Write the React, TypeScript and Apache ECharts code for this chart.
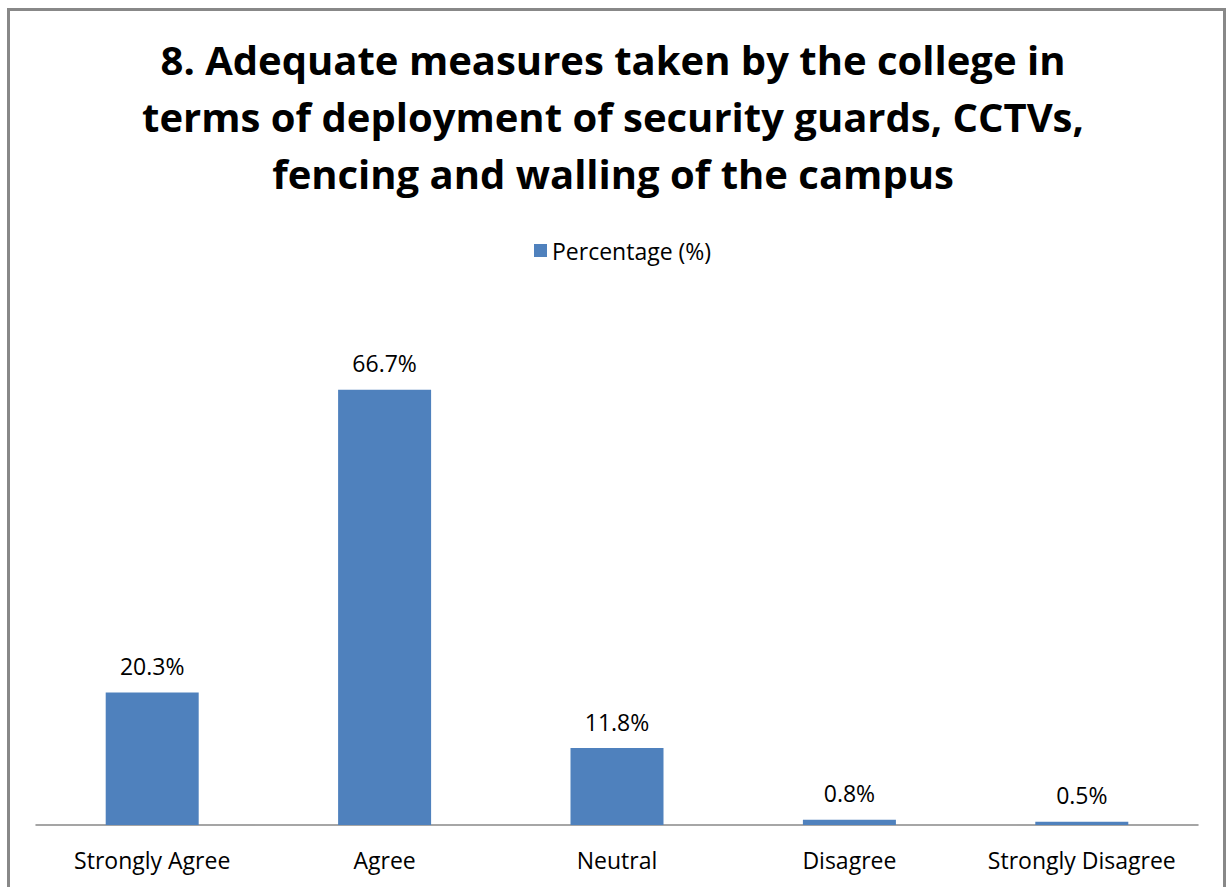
import React, { useEffect, useRef } from "react";
import * as echarts from "echarts";

const categories = ["Strongly Agree", "Agree", "Neutral", "Disagree", "Strongly Disagree"];
const percentages = [20.3, 66.7, 11.8, 0.8, 0.5];
const seriesName = "Percentage (%)";
const titleText =
  "8. Adequate measures taken by the college in\nterms of deployment of security guards, CCTVs,\nfencing and walling of the campus";

const FONT = "'Open Sans', 'Liberation Sans', sans-serif";

export default function App() {
  const ref = useRef<HTMLDivElement>(null);
  useEffect(() => {
    if (!ref.current) return;
    const chart = echarts.init(ref.current, undefined, { renderer: "svg" });
    chart.setOption({
      animation: false,
      backgroundColor: "#ffffff",
      title: {
        text: titleText,
        left: "center",
        top: 26,
        textStyle: {
          fontFamily: FONT,
          fontSize: 40,
          fontWeight: "bold",
          lineHeight: 57,
          color: "#000000",
        },
      },
      legend: {
        data: [seriesName],
        top: 234,
        left: 529,
        icon: "rect",
        itemWidth: 13,
        itemHeight: 13,
        itemGap: 8,
        textStyle: { fontFamily: FONT, fontSize: 23, color: "#000000" },
      },
      graphic: [
        {
          type: "rect",
          shape: { x: 8.5, y: 9.5, width: 1216, height: 900 },
          style: { fill: "none", stroke: "#888888", lineWidth: 3 },
          z: 100,
        },
      ],
      grid: { left: 36, right: 28, top: 303, bottom: 62, containLabel: false },
      xAxis: {
        type: "category",
        data: categories,
        axisLine: { show: true, lineStyle: { color: "#888888", width: 1.5 } },
        axisTick: { show: false },
        axisLabel: {
          fontFamily: FONT,
          fontSize: 23,
          color: "#000000",
          margin: 23,
          interval: 0,
        },
      },
      yAxis: {
        type: "value",
        min: 0,
        max: 80,
        interval: 10,
        show: false,
        splitLine: { show: false },
      },
      series: [
        {
          name: seriesName,
          type: "bar",
          data: percentages,
          barWidth: 93,
          itemStyle: { color: "#4F81BD" },
          label: {
            show: true,
            position: "top",
            distance: 15,
            formatter: (p: any) => p.value.toFixed(1) + "%",
            fontFamily: FONT,
            fontSize: 23,
            color: "#000000",
          },
        },
      ],
    });
    return () => chart.dispose();
  }, []);
  return (
    <div
      ref={ref}
      style={{ position: "fixed", left: 0, top: 0, width: 1226, height: 887 }}
    />
  );
}
